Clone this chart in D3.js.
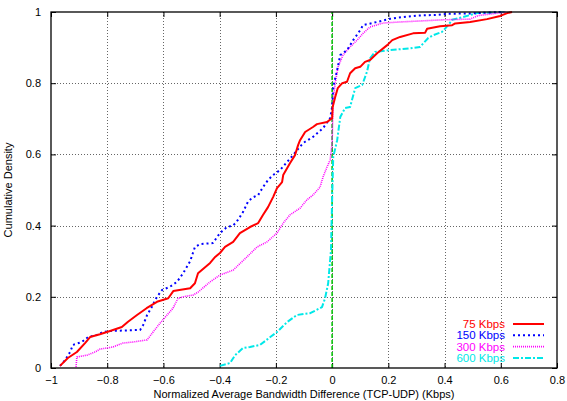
<!DOCTYPE html>
<meta charset="utf-8">
<head>
<style>
body {
  margin: 0;
  background: #fff;
  font-family: 'Liberation Sans', Arial, Helvetica, sans-serif;
}

.axis text {
  font-size: 11px;
  fill: #000;
}

.grid line {
  stroke: #666;
  stroke-width: 1;
  stroke-dasharray: 1,2;
  shape-rendering: crispEdges;
}

.frame {
  fill: none;
  stroke: #000;
  stroke-width: 1.3;
}

.line {
  fill: none;
  stroke-linejoin: round;
}

.legend text {
  font-size: 11.5px;
  text-anchor: end;
}
</style>
</head>

<body>
<div id="chart"></div>

<script src="https://d3js.org/d3.v7.min.js"></script>
<script>

// tick values
var xTicks = [-1, -0.8, -0.6, -0.4, -0.2, 0, 0.2, 0.4, 0.6, 0.8];
var yTicks = [0, 0.2, 0.4, 0.6, 0.8, 1];

var seriesNames = ["75 Kbps", "150 Kbps", "300 Kbps", "600 Kbps"];

// CDF points: [difference, density]
var kbps75 = [[-0.968,0.006],[-0.94,0.028],[-0.908,0.045],[-0.879,0.07],[-0.861,0.087],[-0.826,0.095],[-0.79,0.104],[-0.748,0.115],[-0.726,0.13],[-0.694,0.149],[-0.66,0.168],[-0.623,0.186],[-0.583,0.196],[-0.565,0.216],[-0.505,0.224],[-0.488,0.238],[-0.477,0.266],[-0.434,0.295],[-0.416,0.312],[-0.399,0.323],[-0.381,0.34],[-0.352,0.354],[-0.328,0.379],[-0.292,0.396],[-0.263,0.407],[-0.246,0.43],[-0.228,0.452],[-0.21,0.48],[-0.196,0.505],[-0.178,0.522],[-0.174,0.542],[-0.15,0.575],[-0.132,0.598],[-0.121,0.626],[-0.114,0.64],[-0.096,0.663],[-0.068,0.677],[-0.054,0.685],[-0.018,0.691],[0,0.702],[0.002,0.733],[0.011,0.761],[0.02,0.786],[0.036,0.8],[0.053,0.804],[0.064,0.828],[0.082,0.842],[0.1,0.846],[0.117,0.86],[0.135,0.865],[0.16,0.884],[0.196,0.907],[0.214,0.921],[0.242,0.93],[0.288,0.94],[0.331,0.942],[0.338,0.953],[0.384,0.96],[0.427,0.963],[0.438,0.968],[0.491,0.972],[0.551,0.98],[0.598,0.989],[0.623,0.997],[0.64,1]];

var kbps150 = [[-0.968,0.006],[-0.95,0.022],[-0.932,0.045],[-0.922,0.065],[-0.89,0.073],[-0.868,0.087],[-0.836,0.093],[-0.815,0.101],[-0.79,0.104],[-0.683,0.107],[-0.672,0.121],[-0.658,0.149],[-0.641,0.172],[-0.623,0.2],[-0.605,0.219],[-0.577,0.228],[-0.552,0.242],[-0.53,0.266],[-0.505,0.3],[-0.488,0.34],[-0.47,0.348],[-0.424,0.351],[-0.399,0.379],[-0.374,0.396],[-0.352,0.4],[-0.335,0.416],[-0.317,0.438],[-0.3,0.466],[-0.285,0.478],[-0.263,0.486],[-0.246,0.508],[-0.228,0.528],[-0.21,0.542],[-0.185,0.556],[-0.16,0.579],[-0.139,0.598],[-0.103,0.632],[-0.068,0.649],[-0.032,0.674],[-0.007,0.702],[0,0.733],[0.004,0.79],[0.018,0.837],[0.029,0.879],[0.053,0.893],[0.075,0.921],[0.1,0.949],[0.11,0.963],[0.16,0.972],[0.206,0.981],[0.253,0.986],[0.302,0.99],[0.373,0.992],[0.409,0.995],[0.5,0.996],[0.6,1]];

var kbps300 = [[-0.911,0.003],[-0.908,0.031],[-0.872,0.036],[-0.843,0.045],[-0.826,0.053],[-0.78,0.059],[-0.744,0.07],[-0.708,0.073],[-0.658,0.079],[-0.637,0.101],[-0.612,0.126],[-0.587,0.149],[-0.566,0.168],[-0.548,0.196],[-0.53,0.2],[-0.494,0.205],[-0.477,0.213],[-0.434,0.242],[-0.399,0.261],[-0.352,0.275],[-0.303,0.312],[-0.267,0.34],[-0.232,0.354],[-0.196,0.379],[-0.174,0.407],[-0.15,0.43],[-0.114,0.449],[-0.09,0.472],[-0.068,0.486],[-0.043,0.508],[-0.032,0.537],[-0.018,0.565],[-0.007,0.584],[0,0.632],[0.004,0.753],[0.011,0.8],[0.021,0.846],[0.039,0.879],[0.064,0.902],[0.089,0.921],[0.11,0.94],[0.135,0.958],[0.181,0.969],[0.242,0.972],[0.395,0.978],[0.491,0.98],[0.52,0.99],[0.62,1]];

var kbps600 = [[-0.399,0.006],[-0.363,0.014],[-0.345,0.036],[-0.317,0.056],[-0.292,0.059],[-0.256,0.065],[-0.22,0.087],[-0.196,0.101],[-0.16,0.129],[-0.125,0.149],[-0.078,0.154],[-0.036,0.171],[-0.025,0.196],[-0.014,0.238],[-0.004,0.331],[0,0.472],[0.004,0.593],[0.018,0.64],[0.029,0.705],[0.046,0.73],[0.064,0.733],[0.082,0.786],[0.107,0.795],[0.124,0.832],[0.135,0.87],[0.153,0.888],[0.206,0.893],[0.278,0.898],[0.313,0.902],[0.342,0.927],[0.36,0.935],[0.391,0.944],[0.413,0.963],[0.427,0.978],[0.466,0.986],[0.516,0.997],[0.62,1]];

// zero reference line
var zeroLine = [[0,0],[0,1]];

var margin = {top: 12, right: 10, bottom: 33, left: 51},
    width = 567 - margin.left - margin.right,
    height = 401 - margin.top - margin.bottom;

var x = d3.scaleLinear().domain([-1, 0.8]).range([0, width]);
var y = d3.scaleLinear().domain([0, 1]).range([height, 0]);

var svg = d3.select("#chart").append("svg")
    .attr("width", 567)
    .attr("height", 401)
  .append("g")
    .attr("transform", "translate(" + margin.left + "," + margin.top + ")");

// grid
svg.append("g")
    .attr("class", "grid")
  .selectAll("line")
    .data(xTicks.slice(1, -1))
  .enter().append("line")
    .attr("x1", function(d) { return Math.round(x(d)) + 0.5; })
    .attr("x2", function(d) { return Math.round(x(d)) + 0.5; })
    .attr("y1", 0)
    .attr("y2", height);

svg.append("g")
    .attr("class", "grid")
  .selectAll("line")
    .data(yTicks.slice(1, -1))
  .enter().append("line")
    .attr("y1", function(d) { return Math.round(y(d)) + 0.5; })
    .attr("y2", function(d) { return Math.round(y(d)) + 0.5; })
    .attr("x1", 0)
    .attr("x2", width);

// axes, gnuplot style: ticks inward, mirrored
var fmt = function(d) { return d3.format("")(d); };

svg.append("g")
    .attr("class", "x axis")
    .attr("transform", "translate(0," + height + ")")
    .call(d3.axisBottom(x).tickValues(xTicks).tickFormat(fmt).tickSizeInner(-5).tickSizeOuter(0).tickPadding(8))
    .call(function(g) { g.select(".domain").remove(); });

svg.append("g")
    .attr("class", "x axis")
    .call(d3.axisTop(x).tickValues(xTicks).tickFormat("").tickSizeInner(-5).tickSizeOuter(0))
    .call(function(g) { g.select(".domain").remove(); });

svg.append("g")
    .attr("class", "y axis")
    .call(d3.axisLeft(y).tickValues(yTicks).tickFormat(fmt).tickSizeInner(-5).tickSizeOuter(0).tickPadding(10))
    .call(function(g) { g.select(".domain").remove(); });

svg.append("g")
    .attr("class", "y axis")
    .attr("transform", "translate(" + width + ",0)")
    .call(d3.axisRight(y).tickValues(yTicks).tickFormat("").tickSizeInner(-5).tickSizeOuter(0))
    .call(function(g) { g.select(".domain").remove(); });

svg.selectAll(".axis .tick line").attr("stroke", "#000");

var line = d3.line()
    .x(function(d) { return x(d[0]); })
    .y(function(d) { return y(d[1]); });

// zero line
svg.append("path")
    .datum(zeroLine)
    .attr("class", "line")
    .attr("d", line)
    .attr("stroke", "#00c000")
    .attr("stroke-width", 1.5)
    .attr("stroke-dasharray", "4,2");

var styles = [
  {data: kbps75,  color: "#ff0000", w: 2,   dash: null},
  {data: kbps150, color: "#0000ff", w: 2,   dash: "2,3"},
  {data: kbps300, color: "#ff00ff", w: 1.6, dash: "1,1"},
  {data: kbps600, color: "#00e8e8", w: 2,   dash: "6,2,2,2"}
];

// draw back to front so red ends on top
[3, 2, 1, 0].forEach(function(i) {
  var s = styles[i];
  svg.append("path")
      .datum(s.data)
      .attr("class", "line")
      .attr("d", line)
      .attr("stroke", s.color)
      .attr("stroke-width", s.w)
      .attr("stroke-dasharray", s.dash);
});

// frame
svg.append("rect")
    .attr("class", "frame")
    .attr("width", width)
    .attr("height", height);

// legend
var legend = svg.append("g")
    .attr("class", "legend")
    .attr("transform", "translate(" + (width - 52) + "," + (height - 44) + ")");

seriesNames.forEach(function(name, i) {
  var s = styles[i];
  var g = legend.append("g").attr("transform", "translate(0," + (i * 11.3) + ")");
  g.append("text")
      .attr("x", 0)
      .attr("dy", "0.35em")
      .attr("fill", s.color)
      .text(name);
  g.append("line")
      .attr("x1", 8).attr("x2", 39)
      .attr("stroke", s.color)
      .attr("stroke-width", s.w)
      .attr("stroke-dasharray", s.dash);
});

// axis labels
svg.append("text")
    .attr("x", width / 2)
    .attr("y", height + 30)
    .attr("text-anchor", "middle")
    .style("font-size", "11px")
    .text("Normalized Average Bandwidth Difference (TCP-UDP) (Kbps)");

svg.append("text")
    .attr("transform", "translate(" + (-39) + "," + (height / 2) + ") rotate(-90)")
    .attr("text-anchor", "middle")
    .style("font-size", "11px")
    .text("Cumulative Density");

</script>
</body>
